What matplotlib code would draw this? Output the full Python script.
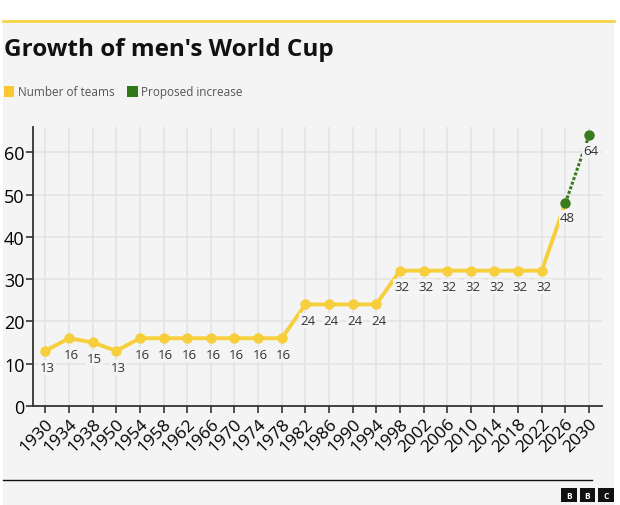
import matplotlib.pyplot as plt
from matplotlib.patches import Rectangle
from matplotlib.lines import Line2D

# world cup years and team counts
years = ["1930", "1934", "1938", "1950", "1954", "1958", "1962", "1966", "1970",
         "1974", "1978", "1982", "1986", "1990", "1994", "1998", "2002", "2006",
         "2010", "2014", "2018", "2022", "2026", "2030"]
teams = [13, 16, 15, 13, 16, 16, 16, 16, 16, 16, 16, 24, 24, 24, 24,
         32, 32, 32, 32, 32, 32, 32, 48]
proposed_years = ["2026", "2030"]
proposed = [48, 64]

yellow = "#f7cf3d"
green = "#3b7a1e"
bg = "#f4f4f4"

plt.rcParams['font.family'] = ['Open Sans', 'DejaVu Sans']

fig = plt.figure(figsize=(6.2, 5.06), dpi=100)
fig.patch.set_facecolor("white")
# grey panel + top yellow rule
fig.patches.append(Rectangle((0.005, 0.0), 0.985, 0.955, transform=fig.transFigure,
                             facecolor=bg, edgecolor="none", zorder=-10))
fig.add_artist(Line2D([0.005, 0.99], [0.956, 0.956], color="#f5d547", lw=2,
                      transform=fig.transFigure))

ax = fig.add_axes([0.053, 0.196, 0.918, 0.551])
ax.set_facecolor(bg)

x_main = list(range(len(teams)))
x_prop = [years.index(y) for y in proposed_years]

ax.plot(x_main, teams, color=yellow, lw=2.8, marker="o", ms=6.5,
        markevery=list(range(len(teams) - 1)), zorder=3, solid_capstyle="round")
ax.plot(x_prop, proposed, color=green, lw=2.2, ls=(0, (1, 0.6)), marker="o",
        ms=6.5, zorder=4)

lbl_box = dict(facecolor=bg, edgecolor="none", pad=0.8)
for i, v in enumerate(teams[:-1]):
    ax.annotate(str(v), (i, v), xytext=(1.5, -7), textcoords="offset points",
                ha="center", va="top", fontsize=9.5, color="#333333",
                bbox=lbl_box, zorder=5)
for i, v in zip(x_prop, proposed):
    ax.annotate(str(v), (i, v), xytext=(1.5, -6), textcoords="offset points",
                ha="center", va="top", fontsize=9.5, color="#333333",
                bbox=lbl_box, zorder=5)

ax.set_xlim(-0.53, len(years) - 0.45)
ax.set_ylim(0, 66)
ax.set_yticks(range(0, 70, 10))
ax.set_xticks(range(len(years)))
ax.set_xticklabels(years, rotation=45, ha="right", rotation_mode="anchor",
                   fontsize=12.5)
ax.tick_params(axis="y", labelsize=13, length=5, width=1.2, color="#333333",
               pad=1)
ax.tick_params(axis="x", length=5, width=1.2, color="#333333", pad=2)
ax.grid(True, color="#e4e4e4", lw=1.2)
ax.set_axisbelow(True)
for s in ["top", "right"]:
    ax.spines[s].set_visible(False)
for s in ["left", "bottom"]:
    ax.spines[s].set_color("#333333")
    ax.spines[s].set_linewidth(1.3)

fig.text(0.007, 0.902, "Growth of men's World Cup", fontsize=17.5, fontweight="bold",
         va="center", ha="left", color="#111111")

# legend
fig.patches.append(Rectangle((0.006, 0.806), 0.017, 0.022, transform=fig.transFigure,
                             facecolor="#fdc82f", edgecolor="none"))
fig.text(0.029, 0.817, "Number of teams", fontsize=8.5, color="#555555",
         va="center")
fig.patches.append(Rectangle((0.205, 0.806), 0.017, 0.022, transform=fig.transFigure,
                             facecolor="#2f7a16", edgecolor="none"))
fig.text(0.228, 0.817, "Proposed increase", fontsize=8.5, color="#555555",
         va="center")

# footer rule and logo
fig.add_artist(Line2D([0.005, 0.955], [0.049, 0.049], color="#111111", lw=1,
                      transform=fig.transFigure))
for k, ch in enumerate("BBC"):
    x0 = 0.905 + k * 0.03
    fig.patches.append(Rectangle((x0, 0.005), 0.025, 0.028, transform=fig.transFigure,
                                 facecolor="#111111", edgecolor="none"))
    fig.text(x0 + 0.0125, 0.019, ch, fontsize=6, color="white", ha="center",
             va="center", fontweight="bold")

fig.savefig("out.png", dpi=100)
